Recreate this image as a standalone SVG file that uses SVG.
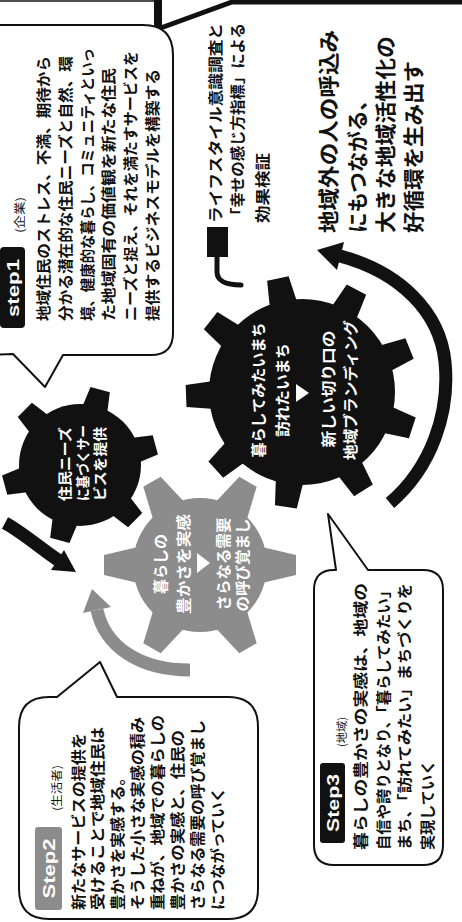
<svg xmlns="http://www.w3.org/2000/svg" width="462" height="922" viewBox="0 0 462 922">
<style>
.jp{font-family:"Noto Sans CJK JP","Noto Sans CJK SC",sans-serif;font-weight:700;fill:#111}
.f15{font-size:15px}
.f14{font-size:14px}
.f21{font-size:21px}
.wt{fill:#fff}
.lb{font-family:"Liberation Sans",Arial,sans-serif;font-weight:700;fill:#fff;font-size:17px}
.sm{font-family:"Noto Sans CJK JP",sans-serif;font-weight:400;fill:#111;font-size:11px}
.box{fill:#fff;stroke:#111;stroke-width:2;stroke-linejoin:round}
.blk{fill:#111}
.gry{fill:#8c8c8c}
.arc{fill:none;stroke:#111;stroke-width:13}
.garc{fill:none;stroke:#8c8c8c;stroke-width:13}
</style>
<defs>
<path id="tA" d="M -13 -56 L 13 -56 L 10 -78 L -10 -78 Z"/>
<path id="tB" d="M -14 -88 L 14 -88 L 11 -116 L -11 -116 Z"/>
<path id="tC" d="M -18 -62 L 18 -62 L 10 -96 L -10 -96 Z"/>
<g id="gearC">
<circle r="67"/>
<use href="#tC"/>
<use href="#tC" transform="rotate(60)"/>
<use href="#tC" transform="rotate(120)"/>
<use href="#tC" transform="rotate(180)"/>
<use href="#tC" transform="rotate(240)"/>
<use href="#tC" transform="rotate(300)"/>
</g>
</defs>
<rect width="462" height="922" fill="#fff"/>
<g transform="matrix(0,-1,1,0,0,922)">

<g id="frame">
<path d="M 921 0 L 921 156" fill="none" stroke="#111" stroke-width="1.5"/>
<path d="M 922 158 L 893 158" fill="none" stroke="#111" stroke-width="8"/>
<path d="M 893 158 L 920 232 L 920 462" fill="none" stroke="#111" stroke-width="5" stroke-linejoin="round"/>
</g>

<g id="step1">
<path class="box" d="M 567 -20 L 897 -20 L 897 143 Q 897 173 867 173 L 589 173 Q 567 173 567 151 L 567 63 L 535 45 L 568 13 L 567 -20 Z"/>
<rect x="594" y="0" width="81" height="25" rx="4" class="blk"/>
<text class="lb" x="634" y="19" text-anchor="middle" textLength="58" lengthAdjust="spacingAndGlyphs">step1</text>
<text class="sm" x="689" y="24" font-size="12" textLength="36" lengthAdjust="spacingAndGlyphs">(企業)</text>
<text class="jp f15" x="601" y="48.7" textLength="265" lengthAdjust="spacingAndGlyphs">地域住民のストレス、不満、期待から</text>
<text class="jp f15" x="601" y="70.7" textLength="265" lengthAdjust="spacingAndGlyphs">分かる潜在的な住民ニーズと自然、環</text>
<text class="jp f15" x="601" y="92.7" textLength="273" lengthAdjust="spacingAndGlyphs">境、健康的な暮らし、コミュニティといっ</text>
<text class="jp f15" x="601" y="113.7" textLength="253" lengthAdjust="spacingAndGlyphs">た地域固有の価値観を新たな住民</text>
<text class="jp f15" x="601" y="135.7" textLength="270" lengthAdjust="spacingAndGlyphs">ニーズと捉え、それを満たすサービスを</text>
<text class="jp f15" x="601" y="157.7" textLength="252" lengthAdjust="spacingAndGlyphs">提供するビジネスモデルを構築する</text>
</g>

<g id="step2">
<path class="box" d="M 33 19 L 195 19 Q 225 19 225 49 L 225 57 L 260 100 L 225 117 L 225 228 Q 225 258 195 258 L 33 258 Q 3 258 3 228 L 3 49 Q 3 19 33 19 Z"/>
<rect x="12" y="35" width="83" height="27" rx="3" class="gry"/>
<text class="lb" x="53.5" y="55" text-anchor="middle" textLength="60" lengthAdjust="spacingAndGlyphs">Step2</text>
<text class="sm" x="111" y="61" textLength="46" lengthAdjust="spacingAndGlyphs">(生活者)</text>
<text class="jp f15" x="12" y="83.7" textLength="177" lengthAdjust="spacingAndGlyphs">新たなサービスの提供を</text>
<text class="jp f15" x="12" y="102.7" textLength="183" lengthAdjust="spacingAndGlyphs">受けることで地域住民は</text>
<text class="jp f15" x="12" y="122.7" textLength="140" lengthAdjust="spacingAndGlyphs">豊かさを実感する。</text>
<text class="jp f15" x="12" y="142.7" textLength="193" lengthAdjust="spacingAndGlyphs">そうした小さな実感の積み</text>
<text class="jp f15" x="12" y="162.7" textLength="195" lengthAdjust="spacingAndGlyphs">重ねが、地域での暮らしの</text>
<text class="jp f15" x="12" y="182.7" textLength="180" lengthAdjust="spacingAndGlyphs">豊かさの実感と、住民の</text>
<text class="jp f15" x="12" y="202.7" textLength="190" lengthAdjust="spacingAndGlyphs">さらなる需要の呼び覚まし</text>
<text class="jp f15" x="12" y="222.7" textLength="123" lengthAdjust="spacingAndGlyphs">につながっていく</text>
</g>

<g id="step3">
<path class="box" d="M 77 314 L 332 314 Q 352 314 352 334 L 352 336 L 408 328 L 352 368 L 352 423 Q 352 443 332 443 L 77 443 Q 57 443 57 423 L 57 334 Q 57 314 77 314 Z"/>
<rect x="79" y="320" width="80" height="25" rx="3" class="blk"/>
<text class="lb" x="119" y="338.5" text-anchor="middle" textLength="58" lengthAdjust="spacingAndGlyphs">Step3</text>
<text class="sm" x="175" y="346" textLength="30" lengthAdjust="spacingAndGlyphs">(地域)</text>
<text class="jp f15" x="72" y="365.7" textLength="267" lengthAdjust="spacingAndGlyphs">暮らしの豊かさの実感は、地域の</text>
<text class="jp f15" x="72" y="388.7" textLength="267" lengthAdjust="spacingAndGlyphs">自信や誇りとなり、「暮らしてみたい」</text>
<text class="jp f15" x="72" y="409.7" textLength="267" lengthAdjust="spacingAndGlyphs">まち、「訪れてみたい」まちづくりを</text>
<text class="jp f15" x="72" y="432.7" textLength="90" lengthAdjust="spacingAndGlyphs">実現していく</text>
</g>

<g id="gearA">
<g transform="translate(457,80)" class="blk">
<circle r="61"/>
<use href="#tA" transform="rotate(45)"/>
<use href="#tA" transform="rotate(105)"/>
<use href="#tA" transform="rotate(165)"/>
<use href="#tA" transform="rotate(225)"/>
<use href="#tA" transform="rotate(285)"/>
<use href="#tA" transform="rotate(345)"/>
</g>
<text class="jp f14 wt" x="421" y="70.3" textLength="74" lengthAdjust="spacingAndGlyphs">住民ニーズ</text>
<text class="jp f14 wt" x="421" y="88.3" textLength="76" lengthAdjust="spacingAndGlyphs">に基づくサー</text>
<text class="jp f14 wt" x="421" y="105.3" textLength="74" lengthAdjust="spacingAndGlyphs">ビスを提供</text>
</g>

<g id="gearB">
<g transform="translate(530,302)" class="blk">
<circle r="93"/>
<use href="#tB" transform="rotate(38)"/>
<use href="#tB" transform="rotate(78)"/>
<use href="#tB" transform="rotate(118)"/>
<use href="#tB" transform="rotate(158)"/>
<use href="#tB" transform="rotate(198)"/>
<use href="#tB" transform="rotate(238)"/>
<use href="#tB" transform="rotate(278)"/>
<use href="#tB" transform="rotate(318)"/>
<use href="#tB" transform="rotate(358)"/>
</g>
<text class="jp f15 wt" x="532" y="263.7" text-anchor="middle" textLength="135" lengthAdjust="spacingAndGlyphs">暮らしてみたいまち</text>
<text class="jp f15 wt" x="532" y="287.7" text-anchor="middle" textLength="94" lengthAdjust="spacingAndGlyphs">訪れたいまち</text>
<polygon class="wt" points="520,296 538,296 529,309"/>
<text class="jp f15 wt" x="533" y="333.7" text-anchor="middle" textLength="117" lengthAdjust="spacingAndGlyphs">新しい切り口の</text>
<text class="jp f15 wt" x="532" y="355.7" text-anchor="middle" textLength="140" lengthAdjust="spacingAndGlyphs">地域ブランディング</text>
</g>

<g id="gearC-node">
<use href="#gearC" transform="translate(357,200)" fill="#fff" stroke="#fff" stroke-width="8"/>
<use href="#gearC" transform="translate(357,200)" fill="#8c8c8c"/>
<text class="jp f15 wt" x="358" y="165.7" text-anchor="middle" textLength="60" lengthAdjust="spacingAndGlyphs">暮らしの</text>
<text class="jp f15 wt" x="358" y="188.7" text-anchor="middle" textLength="100" lengthAdjust="spacingAndGlyphs">豊かさを実感</text>
<polygon class="wt" points="349,197 369,197 359,210"/>
<text class="jp f15 wt" x="358" y="228.7" text-anchor="middle" textLength="93" lengthAdjust="spacingAndGlyphs">さらなる需要</text>
<text class="jp f15 wt" x="357" y="247.7" text-anchor="middle" textLength="93" lengthAdjust="spacingAndGlyphs">の呼び覚まし</text>
</g>

<g id="note">
<rect x="665" y="207" width="30" height="21" class="blk"/>
<path d="M 665 217 L 650 217 C 642 217 637 225 637 241" fill="none" stroke="#111" stroke-width="5" stroke-linecap="round"/>
<text class="jp f15" x="699" y="220.7" textLength="200" lengthAdjust="spacingAndGlyphs">ライフスタイル意識調査と</text>
<text class="jp f15" x="699" y="242.7" textLength="200" lengthAdjust="spacingAndGlyphs">「幸せの感じ方指標」による</text>
<text class="jp f15" x="699" y="267.7" textLength="70" lengthAdjust="spacingAndGlyphs">効果検証</text>
</g>

<g id="outcome">
<text class="jp f21" x="689" y="336" textLength="203" lengthAdjust="spacingAndGlyphs">地域外の人の呼込み</text>
<text class="jp f21" x="689" y="365" textLength="143" lengthAdjust="spacingAndGlyphs">にもつながる、</text>
<text class="jp f21" x="689" y="393" textLength="197" lengthAdjust="spacingAndGlyphs">大きな地域活性化の</text>
<text class="jp f21" x="689" y="421" textLength="172" lengthAdjust="spacingAndGlyphs">好循環を生み出す</text>
</g>

<g id="connectors">
<path class="arc" d="M 419 390 C 455 432 510 450 560 445 C 610 440 650 400 666 340"/>
<polygon class="blk" points="672,317 680,344 652,337"/>
<path class="arc" stroke-width="11" d="M 399 5 C 390 22 374 40 362 58"/>
<polygon class="blk" points="350,76 372,64 352,51"/>
<path class="garc" d="M 252 190 C 252 140 275 105 312 97"/>
<polygon class="gry" points="333,92 315,111 309,83"/>
</g>

</g>
</svg>
